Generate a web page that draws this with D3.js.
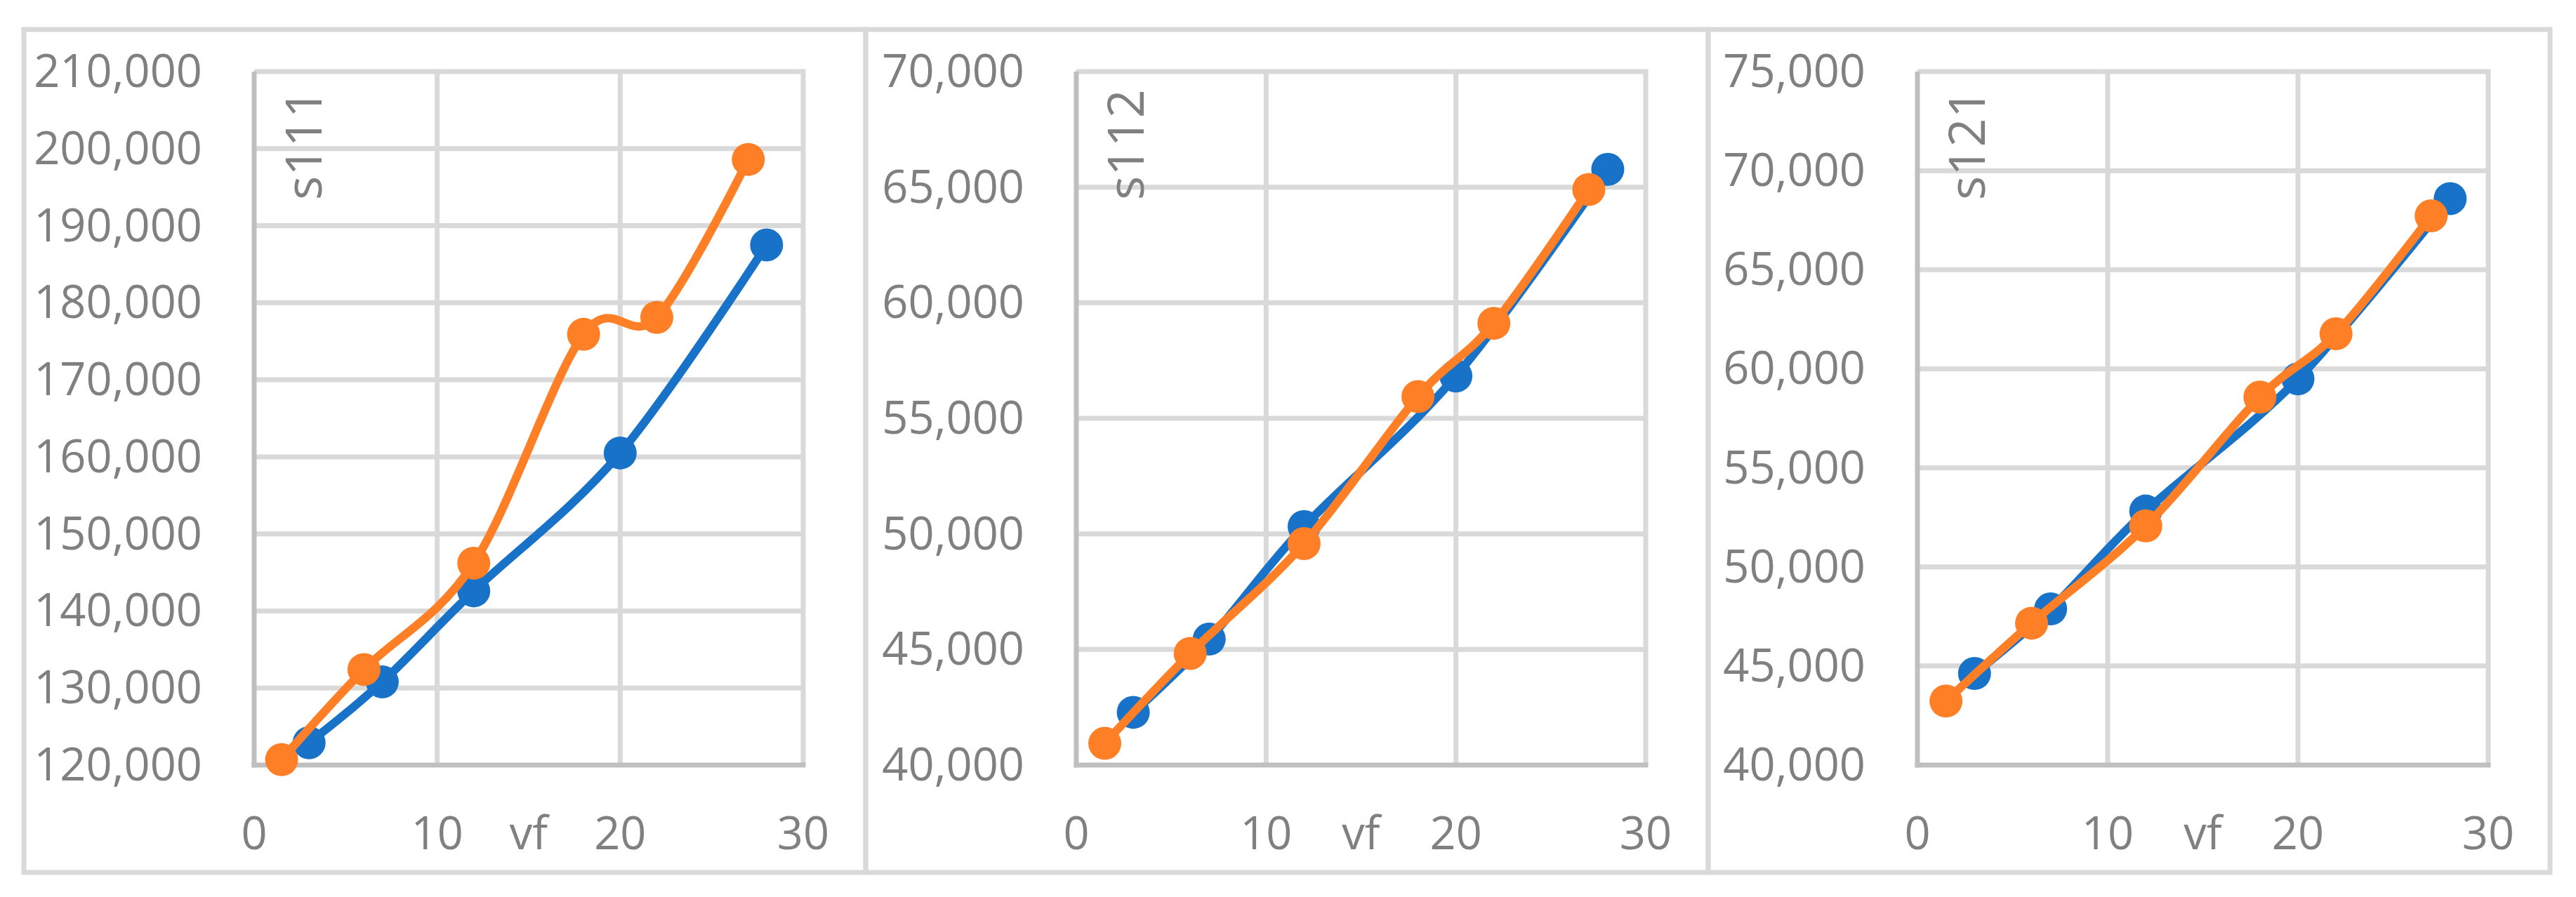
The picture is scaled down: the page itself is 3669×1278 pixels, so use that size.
<!DOCTYPE html>
<html>
<head>
<meta charset="utf-8">
<script src="https://cdn.jsdelivr.net/npm/d3@7"></script>
<style>
  html, body { margin: 0; padding: 0; background: #fff; }
  svg { display: block; }
  text { font-family: "Open Sans", "Noto Sans", sans-serif; fill: #808080; }
</style>
</head>
<body>
<svg id="chart" width="3669" height="1278"></svg>
<script>
// ---------- data ----------
const xTicks = [0, 10, 20, 30];
const xTitle = "vf";
const seriesNames = ["s111", "s112", "s121"];

const blueX = [3, 7, 12, 20, 28];
const orangeX = [1.5, 6, 12, 18, 22, 27];

const s111Blue = [122900, 130800, 142600, 160500, 187500];
const s111Orange = [120700, 132400, 146200, 175900, 178100, 198600];

const s112Blue = [42280, 45450, 50320, 56830, 65770];
const s112Orange = [40940, 44830, 49580, 55940, 59110, 64900];

const s121Blue = [44620, 47880, 52820, 59490, 68590];
const s121Orange = [43230, 47160, 52070, 58570, 61770, 67720];

const s111Ticks = [120000, 130000, 140000, 150000, 160000, 170000, 180000, 190000, 200000, 210000];
const s112Ticks = [40000, 45000, 50000, 55000, 60000, 65000, 70000];
const s121Ticks = [40000, 45000, 50000, 55000, 60000, 65000, 70000, 75000];

// ---------- layout ----------
const panels = [
  { name: seriesNames[0], blue: s111Blue, orange: s111Orange, ticks: s111Ticks,
    box: [34, 42, 1233, 1243], plot: [362, 102, 1144, 1090] },
  { name: seriesNames[1], blue: s112Blue, orange: s112Orange, ticks: s112Ticks,
    box: [1233, 42, 2433, 1243], plot: [1533, 102, 2344, 1090] },
  { name: seriesNames[2], blue: s121Blue, orange: s121Orange, ticks: s121Ticks,
    box: [2433, 42, 3632, 1243], plot: [2731, 102, 3544, 1090] }
];

const BLUE = "#1873c8";
const ORANGE = "#ff7f26";
const GRID = "#d9d9d9";
const AXIS = "#bfbfbf";
const fmt = d3.format(",");

const svg = d3.select("#chart");
svg.append("rect").attr("width", 3669).attr("height", 1278).attr("fill", "#fff");

panels.forEach(p => {
  const g = svg.append("g");
  const [bx0, by0, bx1, by1] = p.box;
  const [px0, py0, px1, py1] = p.plot;

  // outer border
  g.append("rect")
    .attr("x", bx0).attr("y", by0)
    .attr("width", bx1 - bx0).attr("height", by1 - by0)
    .attr("fill", "none").attr("stroke", GRID).attr("stroke-width", 7);

  const x = d3.scaleLinear().domain([xTicks[0], xTicks[xTicks.length - 1]]).range([px0, px1]);
  const y = d3.scaleLinear().domain([p.ticks[0], p.ticks[p.ticks.length - 1]]).range([py1, py0]);

  // horizontal gridlines
  g.append("g").selectAll("line").data(p.ticks.slice(1)).join("line")
    .attr("x1", px0).attr("x2", px1)
    .attr("y1", d => y(d)).attr("y2", d => y(d))
    .attr("stroke", GRID).attr("stroke-width", 7);
  // vertical gridlines
  g.append("g").selectAll("line").data(xTicks.slice(1)).join("line")
    .attr("x1", d => x(d)).attr("x2", d => x(d))
    .attr("y1", py0 - 3.5).attr("y2", py1)
    .attr("stroke", GRID).attr("stroke-width", 7);
  // axes
  g.append("line").attr("x1", px0).attr("x2", px0).attr("y1", py0).attr("y2", py1 + 3.5)
    .attr("stroke", AXIS).attr("stroke-width", 7);
  g.append("line").attr("x1", px0 - 3.5).attr("x2", px1 + 3.5).attr("y1", py1).attr("y2", py1)
    .attr("stroke", AXIS).attr("stroke-width", 7);

  // y tick labels
  g.append("g").selectAll("text").data(p.ticks).join("text")
    .attr("x", px0 - 74).attr("y", d => y(d) + 22)
    .attr("text-anchor", "end").attr("font-size", 65)
    .text(d => fmt(d));
  // x tick labels
  g.append("g").selectAll("text").data(xTicks).join("text")
    .attr("x", d => x(d)).attr("y", py1 + 120)
    .attr("text-anchor", "middle").attr("font-size", 65)
    .text(d => d);
  // x title
  g.append("text").attr("x", (px0 + px1) / 2).attr("y", py1 + 120)
    .attr("text-anchor", "middle").attr("font-size", 65).text(xTitle);
  // series name
  g.append("text")
    .attr("transform", `translate(${px0 + 96},${py0 + 183}) rotate(-90)`)
    .attr("text-anchor", "start").attr("font-size", 72)
    .text(p.name);

  const line = d3.line().curve(d3.curveCardinal.tension(0))
    .x(d => x(d[0])).y(d => y(d[1]));

  const drawSeries = (xs, ys, color) => {
    const pts = xs.map((v, i) => [v, ys[i]]);
    g.append("path").datum(pts).attr("d", line)
      .attr("fill", "none").attr("stroke", color).attr("stroke-width", 12)
      .attr("stroke-linejoin", "round").attr("stroke-linecap", "round");
    g.append("g").selectAll("circle").data(pts).join("circle")
      .attr("cx", d => x(d[0])).attr("cy", d => y(d[1])).attr("r", 23.5)
      .attr("fill", color);
  };
  drawSeries(blueX, p.blue, BLUE);
  drawSeries(orangeX, p.orange, ORANGE);
});
</script>
</body>
</html>
